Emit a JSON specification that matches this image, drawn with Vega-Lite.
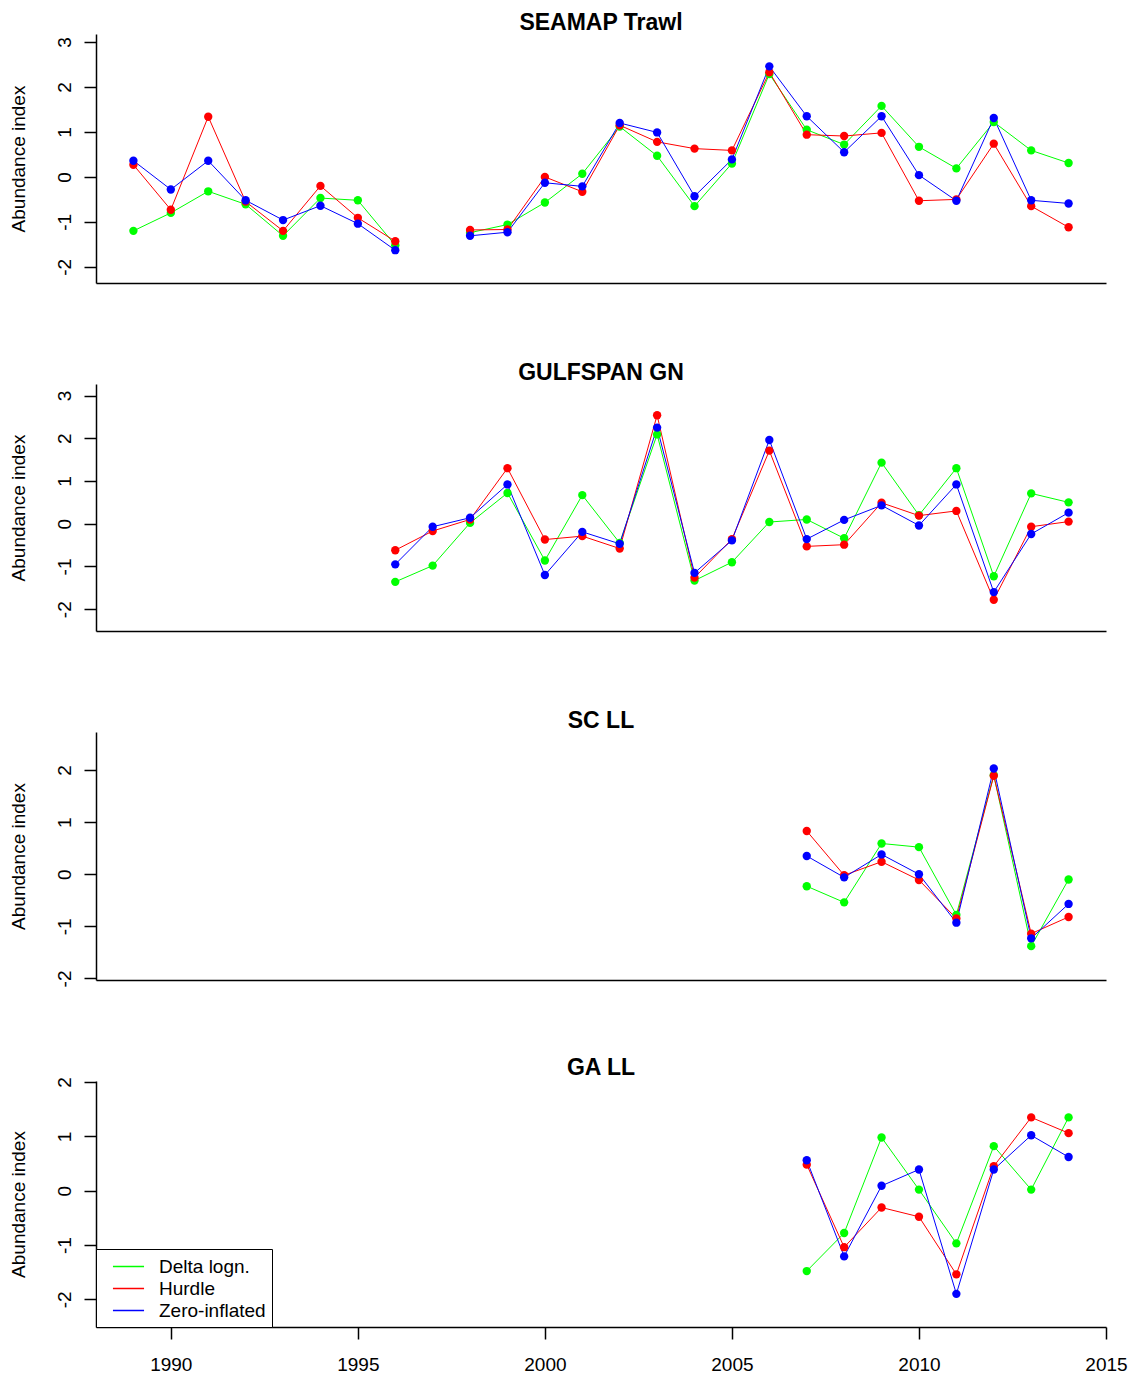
{
  "$schema": "https://vega.github.io/schema/vega-lite/v6.json",
  "padding": {"left": 9, "top": 12, "right": 5, "bottom": 5},
  "background": "white",
  "bounds": "flush",
  "spacing": 101,
  "datasets": {
    "d": [
      {"survey":"SEAMAP Trawl","year":1989,"model":"Delta logn.","value":-1.20},{"survey":"SEAMAP Trawl","year":1989,"model":"Hurdle","value":0.27},{"survey":"SEAMAP Trawl","year":1989,"model":"Zero-inflated","value":0.36},
      {"survey":"SEAMAP Trawl","year":1990,"model":"Delta logn.","value":-0.80},{"survey":"SEAMAP Trawl","year":1990,"model":"Hurdle","value":-0.73},{"survey":"SEAMAP Trawl","year":1990,"model":"Zero-inflated","value":-0.28},
      {"survey":"SEAMAP Trawl","year":1991,"model":"Delta logn.","value":-0.32},{"survey":"SEAMAP Trawl","year":1991,"model":"Hurdle","value":1.34},{"survey":"SEAMAP Trawl","year":1991,"model":"Zero-inflated","value":0.36},
      {"survey":"SEAMAP Trawl","year":1992,"model":"Delta logn.","value":-0.61},{"survey":"SEAMAP Trawl","year":1992,"model":"Hurdle","value":-0.55},{"survey":"SEAMAP Trawl","year":1992,"model":"Zero-inflated","value":-0.52},
      {"survey":"SEAMAP Trawl","year":1993,"model":"Delta logn.","value":-1.31},{"survey":"SEAMAP Trawl","year":1993,"model":"Hurdle","value":-1.20},{"survey":"SEAMAP Trawl","year":1993,"model":"Zero-inflated","value":-0.96},
      {"survey":"SEAMAP Trawl","year":1994,"model":"Delta logn.","value":-0.47},{"survey":"SEAMAP Trawl","year":1994,"model":"Hurdle","value":-0.20},{"survey":"SEAMAP Trawl","year":1994,"model":"Zero-inflated","value":-0.64},
      {"survey":"SEAMAP Trawl","year":1995,"model":"Delta logn.","value":-0.52},{"survey":"SEAMAP Trawl","year":1995,"model":"Hurdle","value":-0.91},{"survey":"SEAMAP Trawl","year":1995,"model":"Zero-inflated","value":-1.04},
      {"survey":"SEAMAP Trawl","year":1996,"model":"Delta logn.","value":-1.52},{"survey":"SEAMAP Trawl","year":1996,"model":"Hurdle","value":-1.43},{"survey":"SEAMAP Trawl","year":1996,"model":"Zero-inflated","value":-1.63},
      {"survey":"SEAMAP Trawl","year":1997,"model":"Delta logn.","value":null},{"survey":"SEAMAP Trawl","year":1997,"model":"Hurdle","value":null},{"survey":"SEAMAP Trawl","year":1997,"model":"Zero-inflated","value":null},
      {"survey":"SEAMAP Trawl","year":1998,"model":"Delta logn.","value":-1.24},{"survey":"SEAMAP Trawl","year":1998,"model":"Hurdle","value":-1.18},{"survey":"SEAMAP Trawl","year":1998,"model":"Zero-inflated","value":-1.31},
      {"survey":"SEAMAP Trawl","year":1999,"model":"Delta logn.","value":-1.06},{"survey":"SEAMAP Trawl","year":1999,"model":"Hurdle","value":-1.17},{"survey":"SEAMAP Trawl","year":1999,"model":"Zero-inflated","value":-1.23},
      {"survey":"SEAMAP Trawl","year":2000,"model":"Delta logn.","value":-0.57},{"survey":"SEAMAP Trawl","year":2000,"model":"Hurdle","value":0.00},{"survey":"SEAMAP Trawl","year":2000,"model":"Zero-inflated","value":-0.13},
      {"survey":"SEAMAP Trawl","year":2001,"model":"Delta logn.","value":0.07},{"survey":"SEAMAP Trawl","year":2001,"model":"Hurdle","value":-0.33},{"survey":"SEAMAP Trawl","year":2001,"model":"Zero-inflated","value":-0.21},
      {"survey":"SEAMAP Trawl","year":2002,"model":"Delta logn.","value":1.12},{"survey":"SEAMAP Trawl","year":2002,"model":"Hurdle","value":1.15},{"survey":"SEAMAP Trawl","year":2002,"model":"Zero-inflated","value":1.20},
      {"survey":"SEAMAP Trawl","year":2003,"model":"Delta logn.","value":0.47},{"survey":"SEAMAP Trawl","year":2003,"model":"Hurdle","value":0.78},{"survey":"SEAMAP Trawl","year":2003,"model":"Zero-inflated","value":0.99},
      {"survey":"SEAMAP Trawl","year":2004,"model":"Delta logn.","value":-0.65},{"survey":"SEAMAP Trawl","year":2004,"model":"Hurdle","value":0.63},{"survey":"SEAMAP Trawl","year":2004,"model":"Zero-inflated","value":-0.43},
      {"survey":"SEAMAP Trawl","year":2005,"model":"Delta logn.","value":0.30},{"survey":"SEAMAP Trawl","year":2005,"model":"Hurdle","value":0.59},{"survey":"SEAMAP Trawl","year":2005,"model":"Zero-inflated","value":0.39},
      {"survey":"SEAMAP Trawl","year":2006,"model":"Delta logn.","value":2.29},{"survey":"SEAMAP Trawl","year":2006,"model":"Hurdle","value":2.33},{"survey":"SEAMAP Trawl","year":2006,"model":"Zero-inflated","value":2.46},
      {"survey":"SEAMAP Trawl","year":2007,"model":"Delta logn.","value":1.05},{"survey":"SEAMAP Trawl","year":2007,"model":"Hurdle","value":0.94},{"survey":"SEAMAP Trawl","year":2007,"model":"Zero-inflated","value":1.35},
      {"survey":"SEAMAP Trawl","year":2008,"model":"Delta logn.","value":0.72},{"survey":"SEAMAP Trawl","year":2008,"model":"Hurdle","value":0.91},{"survey":"SEAMAP Trawl","year":2008,"model":"Zero-inflated","value":0.55},
      {"survey":"SEAMAP Trawl","year":2009,"model":"Delta logn.","value":1.58},{"survey":"SEAMAP Trawl","year":2009,"model":"Hurdle","value":0.98},{"survey":"SEAMAP Trawl","year":2009,"model":"Zero-inflated","value":1.35},
      {"survey":"SEAMAP Trawl","year":2010,"model":"Delta logn.","value":0.67},{"survey":"SEAMAP Trawl","year":2010,"model":"Hurdle","value":-0.53},{"survey":"SEAMAP Trawl","year":2010,"model":"Zero-inflated","value":0.04},
      {"survey":"SEAMAP Trawl","year":2011,"model":"Delta logn.","value":0.19},{"survey":"SEAMAP Trawl","year":2011,"model":"Hurdle","value":-0.50},{"survey":"SEAMAP Trawl","year":2011,"model":"Zero-inflated","value":-0.53},
      {"survey":"SEAMAP Trawl","year":2012,"model":"Delta logn.","value":1.22},{"survey":"SEAMAP Trawl","year":2012,"model":"Hurdle","value":0.74},{"survey":"SEAMAP Trawl","year":2012,"model":"Zero-inflated","value":1.31},
      {"survey":"SEAMAP Trawl","year":2013,"model":"Delta logn.","value":0.59},{"survey":"SEAMAP Trawl","year":2013,"model":"Hurdle","value":-0.65},{"survey":"SEAMAP Trawl","year":2013,"model":"Zero-inflated","value":-0.52},
      {"survey":"SEAMAP Trawl","year":2014,"model":"Delta logn.","value":0.31},{"survey":"SEAMAP Trawl","year":2014,"model":"Hurdle","value":-1.12},{"survey":"SEAMAP Trawl","year":2014,"model":"Zero-inflated","value":-0.59},

      {"survey":"GULFSPAN GN","year":1996,"model":"Delta logn.","value":-1.36},{"survey":"GULFSPAN GN","year":1996,"model":"Hurdle","value":-0.62},{"survey":"GULFSPAN GN","year":1996,"model":"Zero-inflated","value":-0.95},
      {"survey":"GULFSPAN GN","year":1997,"model":"Delta logn.","value":-0.98},{"survey":"GULFSPAN GN","year":1997,"model":"Hurdle","value":-0.17},{"survey":"GULFSPAN GN","year":1997,"model":"Zero-inflated","value":-0.07},
      {"survey":"GULFSPAN GN","year":1998,"model":"Delta logn.","value":0.02},{"survey":"GULFSPAN GN","year":1998,"model":"Hurdle","value":0.10},{"survey":"GULFSPAN GN","year":1998,"model":"Zero-inflated","value":0.14},
      {"survey":"GULFSPAN GN","year":1999,"model":"Delta logn.","value":0.72},{"survey":"GULFSPAN GN","year":1999,"model":"Hurdle","value":1.30},{"survey":"GULFSPAN GN","year":1999,"model":"Zero-inflated","value":0.92},
      {"survey":"GULFSPAN GN","year":2000,"model":"Delta logn.","value":-0.86},{"survey":"GULFSPAN GN","year":2000,"model":"Hurdle","value":-0.37},{"survey":"GULFSPAN GN","year":2000,"model":"Zero-inflated","value":-1.20},
      {"survey":"GULFSPAN GN","year":2001,"model":"Delta logn.","value":0.67},{"survey":"GULFSPAN GN","year":2001,"model":"Hurdle","value":-0.29},{"survey":"GULFSPAN GN","year":2001,"model":"Zero-inflated","value":-0.19},
      {"survey":"GULFSPAN GN","year":2002,"model":"Delta logn.","value":-0.45},{"survey":"GULFSPAN GN","year":2002,"model":"Hurdle","value":-0.58},{"survey":"GULFSPAN GN","year":2002,"model":"Zero-inflated","value":-0.47},
      {"survey":"GULFSPAN GN","year":2003,"model":"Delta logn.","value":2.09},{"survey":"GULFSPAN GN","year":2003,"model":"Hurdle","value":2.54},{"survey":"GULFSPAN GN","year":2003,"model":"Zero-inflated","value":2.25},
      {"survey":"GULFSPAN GN","year":2004,"model":"Delta logn.","value":-1.33},{"survey":"GULFSPAN GN","year":2004,"model":"Hurdle","value":-1.26},{"survey":"GULFSPAN GN","year":2004,"model":"Zero-inflated","value":-1.15},
      {"survey":"GULFSPAN GN","year":2005,"model":"Delta logn.","value":-0.90},{"survey":"GULFSPAN GN","year":2005,"model":"Hurdle","value":-0.36},{"survey":"GULFSPAN GN","year":2005,"model":"Zero-inflated","value":-0.39},
      {"survey":"GULFSPAN GN","year":2006,"model":"Delta logn.","value":0.04},{"survey":"GULFSPAN GN","year":2006,"model":"Hurdle","value":1.71},{"survey":"GULFSPAN GN","year":2006,"model":"Zero-inflated","value":1.96},
      {"survey":"GULFSPAN GN","year":2007,"model":"Delta logn.","value":0.10},{"survey":"GULFSPAN GN","year":2007,"model":"Hurdle","value":-0.53},{"survey":"GULFSPAN GN","year":2007,"model":"Zero-inflated","value":-0.36},
      {"survey":"GULFSPAN GN","year":2008,"model":"Delta logn.","value":-0.34},{"survey":"GULFSPAN GN","year":2008,"model":"Hurdle","value":-0.49},{"survey":"GULFSPAN GN","year":2008,"model":"Zero-inflated","value":0.09},
      {"survey":"GULFSPAN GN","year":2009,"model":"Delta logn.","value":1.43},{"survey":"GULFSPAN GN","year":2009,"model":"Hurdle","value":0.49},{"survey":"GULFSPAN GN","year":2009,"model":"Zero-inflated","value":0.43},
      {"survey":"GULFSPAN GN","year":2010,"model":"Delta logn.","value":0.20},{"survey":"GULFSPAN GN","year":2010,"model":"Hurdle","value":0.19},{"survey":"GULFSPAN GN","year":2010,"model":"Zero-inflated","value":-0.04},
      {"survey":"GULFSPAN GN","year":2011,"model":"Delta logn.","value":1.30},{"survey":"GULFSPAN GN","year":2011,"model":"Hurdle","value":0.30},{"survey":"GULFSPAN GN","year":2011,"model":"Zero-inflated","value":0.92},
      {"survey":"GULFSPAN GN","year":2012,"model":"Delta logn.","value":-1.23},{"survey":"GULFSPAN GN","year":2012,"model":"Hurdle","value":-1.78},{"survey":"GULFSPAN GN","year":2012,"model":"Zero-inflated","value":-1.60},
      {"survey":"GULFSPAN GN","year":2013,"model":"Delta logn.","value":0.71},{"survey":"GULFSPAN GN","year":2013,"model":"Hurdle","value":-0.07},{"survey":"GULFSPAN GN","year":2013,"model":"Zero-inflated","value":-0.24},
      {"survey":"GULFSPAN GN","year":2014,"model":"Delta logn.","value":0.50},{"survey":"GULFSPAN GN","year":2014,"model":"Hurdle","value":0.05},{"survey":"GULFSPAN GN","year":2014,"model":"Zero-inflated","value":0.26},

      {"survey":"SC LL","year":2007,"model":"Delta logn.","value":-0.23},{"survey":"SC LL","year":2007,"model":"Hurdle","value":0.83},{"survey":"SC LL","year":2007,"model":"Zero-inflated","value":0.35},
      {"survey":"SC LL","year":2008,"model":"Delta logn.","value":-0.54},{"survey":"SC LL","year":2008,"model":"Hurdle","value":-0.02},{"survey":"SC LL","year":2008,"model":"Zero-inflated","value":-0.06},
      {"survey":"SC LL","year":2009,"model":"Delta logn.","value":0.59},{"survey":"SC LL","year":2009,"model":"Hurdle","value":0.24},{"survey":"SC LL","year":2009,"model":"Zero-inflated","value":0.38},
      {"survey":"SC LL","year":2010,"model":"Delta logn.","value":0.52},{"survey":"SC LL","year":2010,"model":"Hurdle","value":-0.11},{"survey":"SC LL","year":2010,"model":"Zero-inflated","value":0.00},
      {"survey":"SC LL","year":2011,"model":"Delta logn.","value":-0.78},{"survey":"SC LL","year":2011,"model":"Hurdle","value":-0.85},{"survey":"SC LL","year":2011,"model":"Zero-inflated","value":-0.93},
      {"survey":"SC LL","year":2012,"model":"Delta logn.","value":1.90},{"survey":"SC LL","year":2012,"model":"Hurdle","value":1.89},{"survey":"SC LL","year":2012,"model":"Zero-inflated","value":2.03},
      {"survey":"SC LL","year":2013,"model":"Delta logn.","value":-1.38},{"survey":"SC LL","year":2013,"model":"Hurdle","value":-1.14},{"survey":"SC LL","year":2013,"model":"Zero-inflated","value":-1.23},
      {"survey":"SC LL","year":2014,"model":"Delta logn.","value":-0.10},{"survey":"SC LL","year":2014,"model":"Hurdle","value":-0.82},{"survey":"SC LL","year":2014,"model":"Zero-inflated","value":-0.57},

      {"survey":"GA LL","year":2007,"model":"Delta logn.","value":-1.48},{"survey":"GA LL","year":2007,"model":"Hurdle","value":0.48},{"survey":"GA LL","year":2007,"model":"Zero-inflated","value":0.56},
      {"survey":"GA LL","year":2008,"model":"Delta logn.","value":-0.78},{"survey":"GA LL","year":2008,"model":"Hurdle","value":-1.04},{"survey":"GA LL","year":2008,"model":"Zero-inflated","value":-1.21},
      {"survey":"GA LL","year":2009,"model":"Delta logn.","value":0.98},{"survey":"GA LL","year":2009,"model":"Hurdle","value":-0.31},{"survey":"GA LL","year":2009,"model":"Zero-inflated","value":0.09},
      {"survey":"GA LL","year":2010,"model":"Delta logn.","value":0.02},{"survey":"GA LL","year":2010,"model":"Hurdle","value":-0.48},{"survey":"GA LL","year":2010,"model":"Zero-inflated","value":0.39},
      {"survey":"GA LL","year":2011,"model":"Delta logn.","value":-0.97},{"survey":"GA LL","year":2011,"model":"Hurdle","value":-1.54},{"survey":"GA LL","year":2011,"model":"Zero-inflated","value":-1.90},
      {"survey":"GA LL","year":2012,"model":"Delta logn.","value":0.82},{"survey":"GA LL","year":2012,"model":"Hurdle","value":0.45},{"survey":"GA LL","year":2012,"model":"Zero-inflated","value":0.39},
      {"survey":"GA LL","year":2013,"model":"Delta logn.","value":0.02},{"survey":"GA LL","year":2013,"model":"Hurdle","value":1.35},{"survey":"GA LL","year":2013,"model":"Zero-inflated","value":1.02},
      {"survey":"GA LL","year":2014,"model":"Delta logn.","value":1.35},{"survey":"GA LL","year":2014,"model":"Hurdle","value":1.06},{"survey":"GA LL","year":2014,"model":"Zero-inflated","value":0.62}
    ]
  },
  "data": {"name": "d"},
  "resolve": {
    "scale": {"x": "independent", "y": "independent", "stroke": "independent", "fill": "independent"},
    "legend": {"stroke": "independent", "fill": "independent"}
  },
  "config": {
    "font": "Liberation Sans",
    "view": {"stroke": null},
    "axis": {
      "grid": false,
      "domainColor": "#000000",
      "domainWidth": 1.5,
      "tickColor": "#000000",
      "tickWidth": 1.5,
      "tickSize": 12,
      "labelColor": "#000000",
      "labelFont": "Liberation Sans",
      "labelFontSize": 19,
      "titleColor": "#000000",
      "titleFont": "Liberation Sans",
      "titleFontSize": 19,
      "titleFontWeight": "normal",
      "labelOverlap": false,
      "labelFlush": false
    },
    "axisY": {
      "labelExpr": "datum.value < 0 ? '-' + format(-datum.value, 'd') : format(datum.value, 'd')"
    },
    "title": {
      "font": "Liberation Sans",
      "fontSize": 23,
      "fontWeight": "bold",
      "color": "#000000",
      "anchor": "middle",
      "frame": "group",
      "baseline": "alphabetic",
      "offset": -1
    }
  },
  "vconcat": [
    {
      "title": "SEAMAP Trawl",
      "width": 1010,
      "height": 249,
      "transform": [{"filter": "datum.survey == 'SEAMAP Trawl'"}],
      "encoding": {
        "x": {"field": "year", "type": "quantitative", "scale": {"domain": [1988, 2015], "nice": false, "zero": false},
              "axis": {"title": null, "ticks": false, "labels": false}},
        "y": {"field": "value", "type": "quantitative", "scale": {"domain": [-2.36, 3.18], "nice": false, "zero": false},
              "axis": {"title": "Abundance index", "values": [-2, -1, 0, 1, 2, 3], "labelAngle": -90, "labelAlign": "center", "labelBaseline": "alphabetic", "labelPadding": 13.5, "titleX": -72, "titleAngle": 270, "titleBaseline": "alphabetic"}}
      },
      "layer": [
        {"mark": {"type": "line", "strokeWidth": 1, "invalid": "break-paths-filter-domains"},
         "encoding": {"stroke": {"field": "model", "type": "nominal", "scale": {"domain": ["Delta logn.", "Hurdle", "Zero-inflated"], "range": ["#00ff00", "#ff0000", "#0000ff"]}, "legend": null}}},
        {"mark": {"type": "point", "filled": true, "size": 70, "opacity": 1, "strokeWidth": 0},
         "encoding": {"fill": {"field": "model", "type": "nominal", "scale": {"domain": ["Delta logn.", "Hurdle", "Zero-inflated"], "range": ["#00ff00", "#ff0000", "#0000ff"]}, "legend": null}}}
      ]
    },
    {
      "title": "GULFSPAN GN",
      "width": 1010,
      "height": 247,
      "transform": [{"filter": "datum.survey == 'GULFSPAN GN'"}],
      "encoding": {
        "x": {"field": "year", "type": "quantitative", "scale": {"domain": [1988, 2015], "nice": false, "zero": false},
              "axis": {"title": null, "ticks": false, "labels": false}},
        "y": {"field": "value", "type": "quantitative", "scale": {"domain": [-2.51, 3.27], "nice": false, "zero": false},
              "axis": {"title": "Abundance index", "values": [-2, -1, 0, 1, 2, 3], "labelAngle": -90, "labelAlign": "center", "labelBaseline": "alphabetic", "labelPadding": 13.5, "titleX": -72, "titleAngle": 270, "titleBaseline": "alphabetic"}}
      },
      "layer": [
        {"mark": {"type": "line", "strokeWidth": 1, "invalid": "break-paths-filter-domains"},
         "encoding": {"stroke": {"field": "model", "type": "nominal", "scale": {"domain": ["Delta logn.", "Hurdle", "Zero-inflated"], "range": ["#00ff00", "#ff0000", "#0000ff"]}, "legend": null}}},
        {"mark": {"type": "point", "filled": true, "size": 70, "opacity": 1, "strokeWidth": 0},
         "encoding": {"fill": {"field": "model", "type": "nominal", "scale": {"domain": ["Delta logn.", "Hurdle", "Zero-inflated"], "range": ["#00ff00", "#ff0000", "#0000ff"]}, "legend": null}}}
      ]
    },
    {
      "title": "SC LL",
      "width": 1010,
      "height": 248,
      "transform": [{"filter": "datum.survey == 'SC LL'"}],
      "encoding": {
        "x": {"field": "year", "type": "quantitative", "scale": {"domain": [1988, 2015], "nice": false, "zero": false},
              "axis": {"title": null, "ticks": false, "labels": false}},
        "y": {"field": "value", "type": "quantitative", "scale": {"domain": [-2.03, 2.73], "nice": false, "zero": false},
              "axis": {"title": "Abundance index", "values": [-2, -1, 0, 1, 2], "labelAngle": -90, "labelAlign": "center", "labelBaseline": "alphabetic", "labelPadding": 13.5, "titleX": -72, "titleAngle": 270, "titleBaseline": "alphabetic"}}
      },
      "layer": [
        {"mark": {"type": "line", "strokeWidth": 1, "invalid": "break-paths-filter-domains"},
         "encoding": {"stroke": {"field": "model", "type": "nominal", "scale": {"domain": ["Delta logn.", "Hurdle", "Zero-inflated"], "range": ["#00ff00", "#ff0000", "#0000ff"]}, "legend": null}}},
        {"mark": {"type": "point", "filled": true, "size": 70, "opacity": 1, "strokeWidth": 0},
         "encoding": {"fill": {"field": "model", "type": "nominal", "scale": {"domain": ["Delta logn.", "Hurdle", "Zero-inflated"], "range": ["#00ff00", "#ff0000", "#0000ff"]}, "legend": null}}}
      ]
    },
    {
      "title": {"text": "GA LL", "offset": -3},
      "width": 1010,
      "height": 246,
      "transform": [{"filter": "datum.survey == 'GA LL'"}],
      "encoding": {
        "x": {"field": "year", "type": "quantitative", "scale": {"domain": [1988, 2015], "nice": false, "zero": false},
              "axis": {"title": null, "values": [1990, 1995, 2000, 2005, 2010, 2015], "format": "d", "labelBaseline": "alphabetic", "labelPadding": 31.5}},
        "y": {"field": "value", "type": "quantitative", "scale": {"domain": [-2.51, 2.02], "nice": false, "zero": false},
              "axis": {"title": "Abundance index", "values": [-2, -1, 0, 1, 2], "labelAngle": -90, "labelAlign": "center", "labelBaseline": "alphabetic", "labelPadding": 13.5, "titleX": -72, "titleAngle": 270, "titleBaseline": "alphabetic"}}
      },
      "layer": [
        {"mark": {"type": "line", "strokeWidth": 1, "invalid": "break-paths-filter-domains"},
         "encoding": {"stroke": {"field": "model", "type": "nominal", "scale": {"domain": ["Delta logn.", "Hurdle", "Zero-inflated"], "range": ["#00ff00", "#ff0000", "#0000ff"]},
           "legend": {"title": null, "orient": "bottom-left", "offset": 0, "symbolType": "M-1.48,0H1.48", "symbolSize": 441, "symbolStrokeWidth": 1.5, "labelFont": "Liberation Sans", "labelFontSize": 19, "labelColor": "#000000", "labelOffset": 19, "padding": 6, "symbolOffset": 15, "rowPadding": 0, "strokeColor": "#000000", "fillColor": "#ffffff"}}}},
        {"mark": {"type": "point", "filled": true, "size": 70, "opacity": 1, "strokeWidth": 0},
         "encoding": {"fill": {"field": "model", "type": "nominal", "scale": {"domain": ["Delta logn.", "Hurdle", "Zero-inflated"], "range": ["#00ff00", "#ff0000", "#0000ff"]}, "legend": null}}}
      ]
    }
  ]
}
